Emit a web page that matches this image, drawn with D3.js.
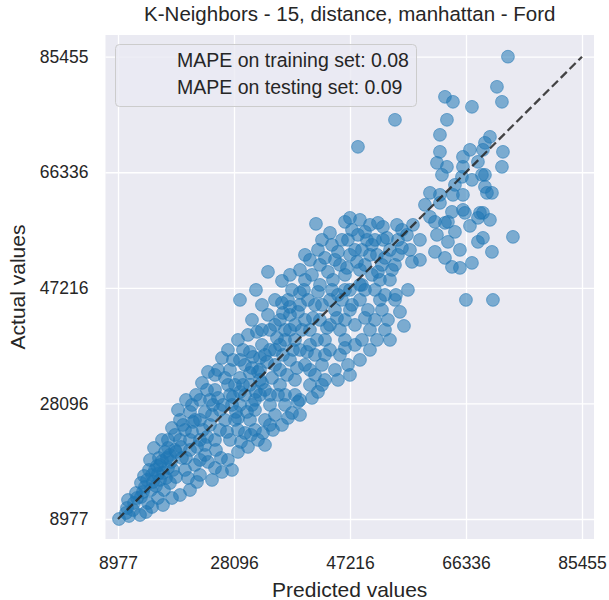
<!DOCTYPE html>
<meta charset="utf-8">
<style>
body { margin: 0; background: #fff; font-family: "Liberation Sans", Arial, sans-serif; }
.tick text { fill: #262626; font-size: 17.5px; }
.grid line { stroke: #fff; stroke-width: 1.3px; }
.pt { fill: #1f77b4; fill-opacity: 0.55; stroke: #1f77b4; stroke-opacity: 0.55; stroke-width: 1px; }
</style>
<div id="chart"></div>
<script src="https://cdn.jsdelivr.net/npm/d3@7"></script>
<script>
// tick positions used on both axes (min .. max of actual values)
var tickValues = [8977, 28096, 47216, 66336, 85455];
var metrics = ["MAPE on training set: 0.08", "MAPE on testing set: 0.09"];

// predicted vs actual
var predicted = [9142,10790,12603,10460,11614,12767,13921,14415,13427,15239,15899,14580,16393,15404,17217,17711,14086,12767,16558,17547,
  18535,19195,15734,16723,14251,14910,11943,21996,26116,23809,25951,29907,30895,29247,18865,21172,21667,20019,24139,19195,
  22491,24963,27435,20843,23315,17547,20019,21667,16228,17876,22820,24963,26611,26116,29577,30731,31884,33697,36169,36004,
  37323,29083,30731,32379,31225,33203,32873,34521,36004,37652,27435,25787,28259,30731,33203,29083,31555,34027,36499,38971,
  30731,33203,35675,38147,40619,43091,32379,34851,37323,39795,42596,45563,48035,34027,35675,38147,40619,43091,45563,48035,
  50507,52979,35675,37323,39795,42267,44739,47211,50177,52484,39630,41937,44409,46387,48859,51331,53803,54627,38971,40948,
  43091,45563,47211,49683,51825,52979,50836,44244,45892,47540,48529,50507,51825,41607,33697,36004,31719,29083,56110,52155,
  54791,53473,48529,73249,71436,72260,62867,64185,67316,54627,63196,62043,62043,61548,63196,62372,65833,65833,65668,67316,
  70283,69459,69129,72425,72260,68964,69459,69459,69788,70612,60395,62043,62043,64185,65833,64020,65833,66163,68635,69129,
  68305,60395,61219,62867,63361,61548,57593,55780,52649,63361,65339,68305,69129,70612,74073,64020,67316,65339,66327,70777,
  22491,24139,26611,24963,27435,29907,28259,32379,34851,32708,30401,37323,38971,41443,43915,46387,48859,43915,41443,38971,
  46387,48859,50507,48035,42267,44739,53803,55121,51331,54627,56769,34027,36499,38971,34851,31555,29907,20843,18371,23315,
  25787,28753,31555,15899,16887,19524,20513,22491,24468,15569,13591,11449,10625,13262,15075,17217,19195,20843,22491,23644,
  21831,20183,25457,27764,31060,41937,44739,46881,49188,51331,43915,46387,40619,36499,38147,33203,35675,38147,40619,43091,
  32379,29083,27105,28753,31060,32708,34851,37652,39795,41937,43915,46387,48859,52649,49683,52155,47211,45233,40619,37323,
  59571,58747,64515,66987,70283,61219,62867,66987,68305,64515,58747,57099,55121,
  12108,13097,13756,14745,15569,16228,17052,18041,18535,19359,20183,21172,21996,22985,23644,24468,25127,26281,26940,27929,
  28423,29577,30236,31060,31719,32708,33532,34356,35180,36169,36828,37817,38476,39300,40124,41113,41772,42596,43420,44244,
  45068,45892,46716,47540,48364,49188,50012,50836,51660,52484,53308,54132,54956,55780,56604,57428,27105,24633,23315,21337,
  19689,18371,17217,29083,32049,34027,36499,38641,40289,42267,43585,45233,46881,49188,49683,27105,28753,30401,32049,34027,
  36993,38641,40948,42596,45233,47211,48859,50507,51660,53803,55451,27764,24963,20843,17876,16393,14580,10295,22491,28753,
  35345,41443,46387,49683,52979,34851,38971,36993,32708,27929,25457,23809,42596,39795,47211];
var actual = [8977,9474,9639,10798,11625,12618,11625,13777,14273,14439,15432,16259,16590,17749,17418,18411,17087,14935,13777,14935,
  15928,12949,19073,20066,18742,20728,13280,15101,16756,18411,19073,23210,22879,21721,27017,27844,25362,23707,24534,22052,
  22052,22052,22052,20397,19569,19569,17087,17914,22052,24038,31485,32809,32313,35623,36947,36616,39926,42739,43070,44725,
  44063,32313,33140,35623,35788,21224,23210,23707,24534,26520,29499,27017,25362,25362,25362,27844,28672,27844,27844,28672,
  31154,30327,31154,31982,31154,31982,33637,34464,35292,34464,34464,36119,37774,40257,37774,38602,37774,38602,40257,41084,
  40257,40257,41912,42739,41912,41912,43567,43567,43567,43567,46877,46546,48532,46877,47704,46877,48532,45222,50187,49359,
  52173,51014,52669,51014,49856,52173,54324,54324,55152,56807,55979,57634,57965,57800,49856,48366,46877,45222,40919,45222,
  46049,41912,70543,85455,80473,77991,78818,77991,77163,75012,75012,72529,69716,67895,67233,65909,68888,67233,65578,65082,
  72198,71205,70047,69716,67233,65909,65909,63923,62930,62930,62930,62599,61275,62599,62599,59786,60117,59620,59620,59620,
  58793,58958,58131,57965,58131,55979,57634,56807,57303,54821,53497,54821,55483,53166,55648,50683,51345,50518,45222,45222,
  25362,28672,25362,30327,33637,34464,31154,31982,36947,37774,39429,40257,36947,36119,36947,41912,45222,45222,44394,44394,
  49359,50187,52669,53497,51014,51842,53497,55152,55152,51014,46877,29499,29499,26189,26189,27017,29499,22052,20397,21224,
  23707,23707,23707,17914,15763,19073,15763,16259,15432,12453,10136,10467,12122,16094,17087,22052,25362,26686,28672,30327,
  29499,28672,29003,27844,27844,29996,33637,34464,38602,41912,41084,38602,40257,40257,41084,36119,33637,29499,33637,36119,
  29499,35292,36947,38602,41912,44394,45222,46877,48532,53497,56310,58131,58462,55152,46877,48532,46877,46049,51842,49359,
  60944,55152,56476,57469,58462,53166,52173,70047,68061,64254,51842,53497,52669,
  12453,13446,15432,15101,16425,18576,19073,17087,20066,20893,19073,23376,20893,23707,22548,26189,20397,27844,23376,29168,
  26686,31154,26686,33968,29996,31485,34961,32313,38933,36119,32809,36947,33968,40257,36616,42243,38602,44394,40588,46877,
  42243,45222,50518,44394,51511,47704,55152,49359,52669,51014,55483,50187,57634,53828,55979,51511,31154,27844,26686,25031,
  24534,22879,20728,29996,33306,36947,38602,43236,45222,47704,49856,53166,55152,53497,56476,18742,20066,20893,22052,24534,
  25693,28341,29003,31154,31982,32809,35292,36947,38602,38602,43236,17087,17418,13777,12453,11294,10963,9970,18742,25693,
  29499,32809,37278,42243,46049,41084,46380,45222,40257,35292,33637,33306,55152,52669,58793];

var W = 609, H = 600;
var plot = {left: 105.5, right: 594, top: 35, bottom: 539};

var svg = d3.select("#chart").append("svg")
    .attr("width", W)
    .attr("height", H);

var x = d3.scaleLinear().domain([6917, 87433]).range([plot.left, plot.right]);
var y = d3.scaleLinear().domain([5667, 89046]).range([plot.bottom, plot.top]);

svg.append("rect")
    .attr("x", plot.left).attr("y", plot.top)
    .attr("width", plot.right - plot.left)
    .attr("height", plot.bottom - plot.top)
    .attr("fill", "#eaeaf2");

// grid from the axes, then strip the domain
svg.append("g")
    .attr("class", "grid")
    .attr("transform", "translate(0," + plot.bottom + ")")
    .call(d3.axisBottom(x).tickValues(tickValues).tickSize(-(plot.bottom - plot.top)).tickFormat(""))
    .call(function(g) { g.select(".domain").remove(); });
svg.append("g")
    .attr("class", "grid")
    .attr("transform", "translate(" + plot.left + ",0)")
    .call(d3.axisLeft(y).tickValues(tickValues).tickSize(-(plot.right - plot.left)).tickFormat(""))
    .call(function(g) { g.select(".domain").remove(); });

// tick labels
svg.append("g")
    .attr("transform", "translate(0," + plot.bottom + ")")
    .call(d3.axisBottom(x).tickValues(tickValues).tickSize(0).tickPadding(18).tickFormat(d3.format("d")))
    .call(function(g) { g.select(".domain").remove(); });
svg.append("g")
    .attr("transform", "translate(" + plot.left + ",0)")
    .call(d3.axisLeft(y).tickValues(tickValues).tickSize(0).tickPadding(17).tickFormat(d3.format("d")))
    .call(function(g) { g.select(".domain").remove(); });

var pts = d3.range(predicted.length);
svg.append("g").selectAll("circle")
    .data(pts)
  .enter().append("circle")
    .attr("class", "pt")
    .attr("cx", function(i) { return x(predicted[i]); })
    .attr("cy", function(i) { return y(actual[i]); })
    .attr("r", 6.4);

var lo = d3.min(tickValues), hi = d3.max(tickValues);
svg.append("line")
    .attr("x1", x(lo)).attr("y1", y(lo))
    .attr("x2", x(hi)).attr("y2", y(hi))
    .attr("stroke", "#262626")
    .attr("stroke-opacity", 0.85)
    .attr("stroke-width", 2.3)
    .attr("stroke-dasharray", "8.5,4");

// legend box (text only)
var leg = svg.append("g");
leg.append("rect")
    .attr("x", 115.5).attr("y", 44.5)
    .attr("width", 301).attr("height", 62)
    .attr("rx", 4)
    .attr("fill", "#eaeaf2").attr("fill-opacity", 0.8)
    .attr("stroke", "#cccccc");
leg.selectAll("text")
    .data(metrics)
  .enter().append("text")
    .attr("x", 177)
    .attr("y", function(d, i) { return 67 + i * 27; })
    .attr("font-size", 19.5)
    .attr("fill", "#262626")
    .text(function(d) { return d; });

svg.append("text")
    .attr("x", (plot.left + plot.right) / 2)
    .attr("y", 20.5)
    .attr("text-anchor", "middle")
    .attr("font-size", 20.5)
    .attr("fill", "#262626")
    .text("K-Neighbors - 15, distance, manhattan - Ford");

svg.append("text")
    .attr("x", (plot.left + plot.right) / 2)
    .attr("y", 597)
    .attr("text-anchor", "middle")
    .attr("font-size", 21)
    .attr("fill", "#262626")
    .text("Predicted values");

svg.append("text")
    .attr("transform", "translate(25," + (plot.top + plot.bottom) / 2 + ")rotate(-90)")
    .attr("text-anchor", "middle")
    .attr("font-size", 21)
    .attr("fill", "#262626")
    .text("Actual values");
</script>
